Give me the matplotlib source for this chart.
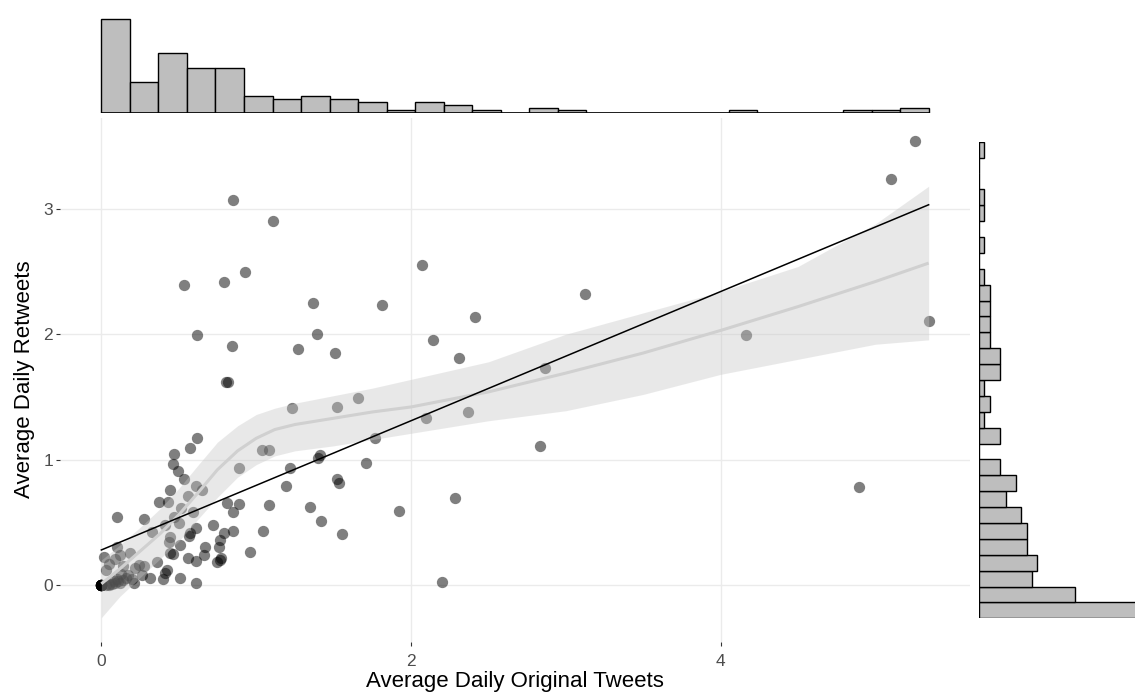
import numpy as np
import matplotlib.pyplot as plt

plt.rcParams['font.family'] = ['Liberation Sans', 'DejaVu Sans']

# average daily original tweets / retweets per account
tweets = [
    0.85, 1.11, 0.531, 0.789, 0.929, 1.37, 1.81, 0.617, 0.843, 1.39,
    1.27, 1.51, 0.805, 0.818, 1.23, 1.52, 1.66, 1.77, 1.037, 1.08,
    0.892, 1.219, 1.40, 1.413, 1.71, 1.194, 1.52, 1.538, 1.08, 1.348,
    1.42, 1.553, 1.047, 0.961, 0.892, 0.811, 0.85, 0.85, 0.789, 0.768,
    0.757, 0.768, 0.746, 0.775, 0.72, 0.671, 0.617, 0.57, 0.471, 0.462,
    0.492, 0.531, 0.441, 0.37, 0.43, 0.613, 0.65, 0.559, 0.514, 0.591,
    0.471, 0.499, 0.613, 0.574, 0.563, 0.413, 0.327, 0.445, 0.434, 0.51,
    0.445, 0.462, 0.559, 0.613, 0.66, 0.273, 0.101, 0.359, 0.424, 0.413,
    0.312, 0.51, 0.613, 0.40, 0.273, 0.208, 0.187, 0.219, 0.24, 0.26,
    0.20,
    2.073, 2.413, 2.144, 2.312, 3.123, 2.865, 2.37, 2.094, 2.832, 1.923,
    2.282, 2.202, 4.161, 5.254, 5.103, 5.344, 4.892,
    0.101, 0.015, 0.09, 0.03, 0.14, 0.05, 0.12,
    0.0, 0.0, 0.0, 0.0, 0.0, 0.0, 0.0, 0.0, 0.0, 0.0, 0.0, 0.0,
    0.03, 0.05, 0.07, 0.09, 0.11, 0.12, 0.14, 0.16, 0.17, 0.08, 0.10, 0.13, 0.05,
]
retweets = [
    3.067, 2.90, 2.39, 2.42, 2.498, 2.248, 2.23, 1.99, 1.907, 2.00,
    1.88, 1.85, 1.62, 1.62, 1.41, 1.42, 1.495, 1.17, 1.077, 1.077,
    0.93, 0.93, 1.01, 1.037, 0.976, 0.79, 0.843, 0.816, 0.638, 0.625,
    0.513, 0.404, 0.433, 0.26, 0.644, 0.652, 0.585, 0.433, 0.412, 0.359,
    0.306, 0.20, 0.186, 0.215, 0.479, 0.306, 1.17, 1.09, 1.045, 0.966,
    0.912, 0.843, 0.758, 0.665, 0.665, 0.79, 0.758, 0.71, 0.612, 0.585,
    0.545, 0.492, 0.457, 0.412, 0.391, 0.479, 0.425, 0.386, 0.346, 0.319,
    0.258, 0.247, 0.213, 0.194, 0.24, 0.524, 0.545, 0.186, 0.12, 0.098,
    0.053, 0.053, 0.019, 0.05, 0.152, 0.013, 0.253, 0.133, 0.16, 0.08,
    0.05,
    2.548, 2.141, 1.95, 1.814, 2.322, 1.734, 1.383, 1.33, 1.112, 0.593,
    0.692, 0.021, 1.99, 3.538, 3.238, 2.109, 0.78,
    0.30, 0.22, 0.21, 0.12, 0.15, 0.17, 0.24,
    0.0, 0.0, 0.0, 0.0, 0.0, 0.0, 0.0, 0.0, 0.0, 0.0, 0.0, 0.0,
    0.0, 0.01, 0.01, 0.02, 0.03, 0.02, 0.04, 0.06, 0.08, 0.03, 0.05, 0.09, 0.0,
]

# loess smooth with its confidence band
smooth_x = [0.0, 0.12, 0.25, 0.38, 0.5, 0.62, 0.75, 0.88, 1.0, 1.12, 1.25, 1.5,
            1.75, 2.0, 2.5, 3.0, 3.5, 4.0, 4.5, 5.0, 5.344]
smooth_fit = [0.01, 0.13, 0.27, 0.41, 0.56, 0.73, 0.92, 1.07, 1.17, 1.24, 1.28, 1.33,
              1.38, 1.42, 1.54, 1.69, 1.85, 2.03, 2.22, 2.42, 2.567]
smooth_hi = [0.20, 0.32, 0.46, 0.61, 0.77, 0.95, 1.14, 1.27, 1.36, 1.41, 1.45, 1.51,
             1.57, 1.64, 1.78, 2.0, 2.17, 2.34, 2.54, 2.88, 3.18]
smooth_lo = [-0.26, -0.09, 0.06, 0.21, 0.35, 0.52, 0.70, 0.86, 0.96, 1.03, 1.07, 1.11,
             1.16, 1.21, 1.31, 1.39, 1.52, 1.68, 1.80, 1.92, 1.955]

# linear fit: intercept, slope
lm_coef = (0.28, 0.515)

# marginal histogram counts
tweet_counts = [33, 11, 21, 16, 16, 6, 5, 6, 5, 4, 1, 4, 3, 1, 0, 2, 1,
                0, 0, 0, 0, 0, 1, 0, 0, 0, 1, 1, 2]
retweet_counts = [30, 18, 10, 11, 9, 9, 8, 5, 7, 4, 0, 4, 1, 2, 1, 4, 4,
                  2, 2, 2, 2, 1, 0, 1, 0, 1, 1, 0, 0, 1]
retweet_binwidth = 0.1237

x_ticks = [0, 2, 4]
y_ticks = [0, 1, 2, 3]

W, H = 1135, 692


def box(l, t, r, b):
    return [l / W, 1 - b / H, (r - l) / W, (b - t) / H]


fig = plt.figure(figsize=(W / 100, H / 100), dpi=100)
ax = fig.add_axes(box(60, 117.5, 970, 641.5))
ax_top = fig.add_axes(box(60, 0, 970, 113.3), sharex=ax)
ax_right = fig.add_axes(box(979, 141.7, 1135, 618.3))

x = np.array(tweets)
y = np.array(retweets)

ax.scatter(x, y, s=66, color='black', alpha=0.5, linewidths=0, zorder=2)
ax.fill_between(smooth_x, smooth_lo, smooth_hi, color='#c6c6c6', alpha=0.39,
                linewidth=0, zorder=3)
ax.plot(smooth_x, smooth_fit, color='#d0d0d0', lw=2.2, zorder=4,
        solid_capstyle='butt')
xl = np.array([x.min(), x.max()])
ax.plot(xl, lm_coef[0] + lm_coef[1] * xl, color='black', lw=1.1, zorder=5)

xpad = 0.05 * (x.max() - x.min())
ax.set_xlim(x.min() - xpad, x.max() + xpad)
ylo, yhi = min(smooth_lo), y.max()
ypad = 0.05 * (yhi - ylo)
ax.set_ylim(ylo - ypad, yhi + ypad)

ax.set_xticks(x_ticks)
ax.set_yticks(y_ticks)
ax.grid(True, color='#ebebeb', lw=1.0)
ax.set_axisbelow(True)
for s in ax.spines.values():
    s.set_visible(False)
ax.tick_params(length=3, width=0.8, color='#333333', labelcolor='#4d4d4d',
               labelsize=12.5)
ax.tick_params(axis='x', pad=6)
ax.tick_params(axis='y', pad=2)
ax.set_xlabel('Average Daily Original Tweets', fontsize=16, labelpad=1.5)
ax.set_ylabel('Average Daily Retweets', fontsize=16, labelpad=6)

# top marginal: original tweets
edges = np.linspace(x.min(), x.max(), len(tweet_counts) + 1)
ax_top.bar(edges[:-1], tweet_counts, width=np.diff(edges), align='edge',
           color='#bebebe', edgecolor='black', linewidth=1.0)
ax_top.plot([edges[0], edges[-1]], [0, 0], color='black', lw=1.2,
            solid_capstyle='butt')
ax_top.set_ylim(0, 39.6)
ax_top.axis('off')

# right marginal: retweets
redges = (np.arange(len(retweet_counts) + 1) - 0.5) * retweet_binwidth
ax_right.barh(redges[:-1], retweet_counts, height=np.diff(redges), align='edge',
              color='#bebebe', edgecolor='black', linewidth=1.0)
ax_right.plot([0, 0], [redges[0], redges[-1]], color='black', lw=1.2,
              solid_capstyle='butt')
ax_right.set_ylim(redges[0], redges[-1])
ax_right.set_xlim(0, 29.4)
ax_right.axis('off')

fig.savefig('out.png', dpi=100)
